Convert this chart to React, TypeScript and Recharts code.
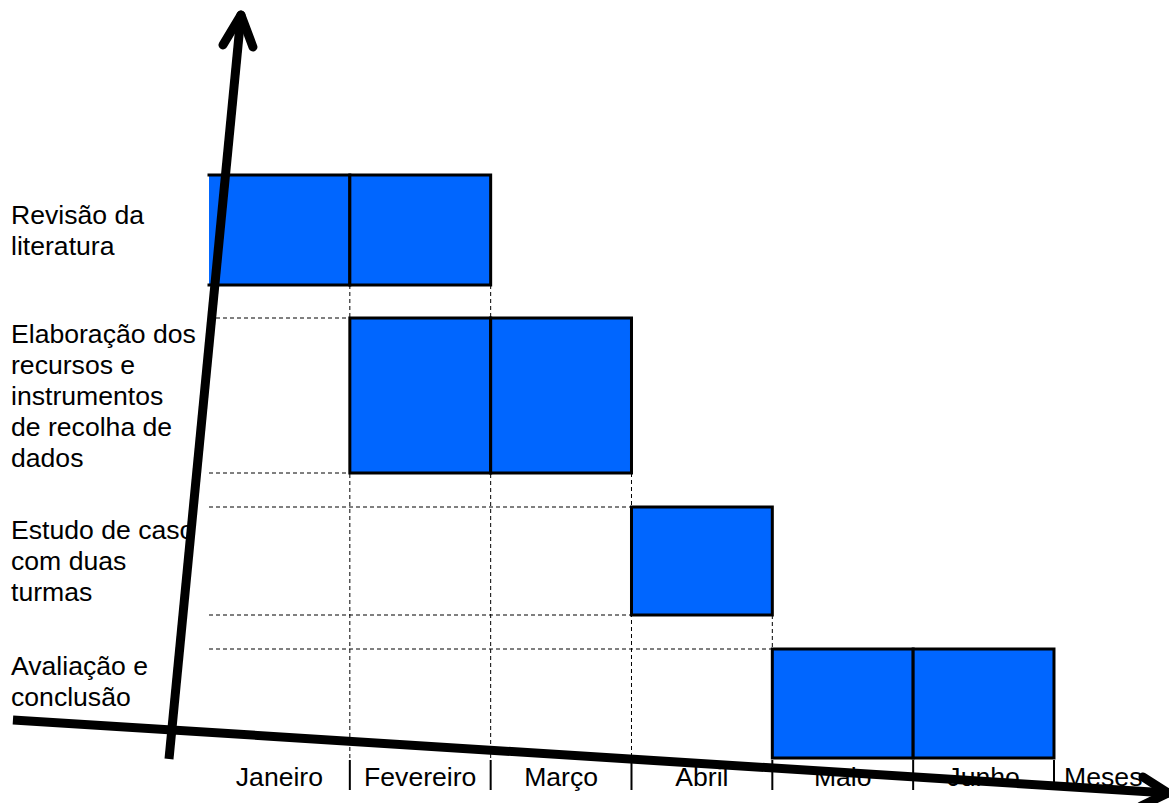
import React from "react";
import { ComposedChart, XAxis, YAxis, Scatter, ReferenceArea, ReferenceLine } from "recharts";

// months on the horizontal axis, plus the axis title shown after the last one
const months = ["Janeiro", "Fevereiro", "Março", "Abril", "Maio", "Junho"];
const axisTitle = "Meses";

// activities, one label (already broken in lines) per row
const taskLabels = [
    ["Revisão da", "literatura"],
    ["Elaboração dos", "recursos e", "instrumentos", "de recolha de", "dados"],
    ["Estudo de caso", "com duas", "turmas"],
    ["Avaliação e", "conclusão"],
];
// first month index and month index after the last one
const taskStart = [0, 1, 3, 4];
const taskEnd = [2, 3, 4, 6];
// vertical extent of every row on the activity scale
const rowLow = [47.3, 28.5, 14.3, 0];
const rowHigh = [58.3, 44.0, 25.1, 10.9];

const W = 1169;
const H = 803;
const BLUE = "#0066FF";
const FONT = "'Liberation Sans', Arial, Helvetica, sans-serif";
const FONT_SIZE = 26.6;
const Y_AXIS_W = 199;
const LINE_H = 31;
const labelNudge = [0, 0, 0, -22];

const rowCenters = rowLow.map((lo, i) => (lo + rowHigh[i]) / 2);
const boundaryTicks = [1, 2, 3, 4, 5, 6];
const labelTicks = [...months.map((_, i) => i + 0.5), 6.35];
const labelText = [...months, axisTitle];

// hand drawn axis arrows, in chart units (months / activity scale)
const yArrow = {
    shaft: [{ x: -0.284, y: -0.1 }, { x: 0.227, y: 74.3 }],
    left: [{ x: 0.099, y: 71.3 }, { x: 0.227, y: 74.3 }],
    right: [{ x: 0.312, y: 71.1 }, { x: 0.227, y: 74.3 }],
};
const xArrow = {
    shaft: [{ x: -1.392, y: 3.8 }, { x: 6.809, y: -3.5 }],
    left: [{ x: 6.632, y: -1.9 }, { x: 6.809, y: -3.5 }],
    right: [{ x: 6.618, y: -4.8 }, { x: 6.809, y: -3.5 }],
};

// dashed guides: row edges to the left of each bar, month edges below the bars
const hGuides: { y: number; to: number }[] = [];
taskStart.forEach((s, i) => {
    if (s === 0) return;
    hGuides.push({ y: rowHigh[i], to: s });
    if (rowLow[i] > 0) hGuides.push({ y: rowLow[i], to: s });
});
const vGuides: { x: number; from: number }[] = [];
boundaryTicks.forEach((b) => {
    const i = taskStart.findIndex((s, k) => s <= b && b <= taskEnd[k]);
    if (i >= 0 && rowLow[i] > 0) vGuides.push({ x: b, from: rowLow[i] });
});

const cellShape = (openLeft: boolean) => (p: any) => {
    const { x, y, width, height } = p;
    const r = x + width;
    const b = y + height;
    const d = openLeft
        ? `M${x},${y} H${r} V${b} H${x}`
        : `M${x},${y} H${r} V${b} H${x} Z`;
    return (
        <g>
            <rect x={x} y={y} width={width} height={height} fill={BLUE} />
            <path d={d} fill="none" stroke="#000" strokeWidth={3} strokeLinecap="square" />
        </g>
    );
};

const TaskTick = (props: any) => {
    const { x, y, payload } = props;
    const i = rowCenters.findIndex((c) => Math.abs(c - payload.value) < 1e-6);
    if (i < 0) return null;
    const lines = taskLabels[i];
    const cy = y + labelNudge[i];
    const tx = x - Y_AXIS_W + 1;
    return (
        <text x={tx} textAnchor="start" fontSize={FONT_SIZE} fill="#000" fontFamily={FONT}>
            {lines.map((ln, k) => (
                <tspan key={k} x={tx} y={cy + (k - (lines.length - 1) / 2) * LINE_H + 9}>
                    {ln}
                </tspan>
            ))}
        </text>
    );
};

export default function App() {
    const cells: { m: number; t: number }[] = [];
    taskStart.forEach((s, t) => {
        for (let m = s; m < taskEnd[t]; m++) cells.push({ m, t });
    });
    const anchors = cells.map(({ m, t }) => ({ x: m + 0.5, y: rowCenters[t] }));

    const arrowLines: React.ReactNode[] = [];
    [yArrow, xArrow].forEach((a, k) => {
        arrowLines.push(
            <ReferenceLine key={`as${k}`} segment={a.shaft} stroke="#000" strokeWidth={9} ifOverflow="visible" />,
            <ReferenceLine key={`al${k}`} segment={a.left} stroke="#000" strokeWidth={9} strokeLinecap="round" ifOverflow="visible" />,
            <ReferenceLine key={`ar${k}`} segment={a.right} stroke="#000" strokeWidth={9} strokeLinecap="round" ifOverflow="visible" />
        );
    });

    return (
        <div style={{ position: "absolute", left: 0, top: 0, width: W, height: H, background: "#fff" }}>
            <ComposedChart
                width={W}
                height={H}
                margin={{ top: 8, right: 44.6, left: 10, bottom: 25 }}
                style={{ fontFamily: FONT }}
            >
                <XAxis
                    type="number"
                    dataKey="x"
                    domain={[0, 6.5]}
                    ticks={labelTicks}
                    interval={0}
                    axisLine={false}
                    tickLine={false}
                    tickSize={0}
                    tickMargin={9}
                    tickFormatter={(_v: number, i: number) => labelText[i]}
                    tick={{ fontSize: FONT_SIZE, fill: "#000", fontFamily: FONT }}
                    height={20}
                />
                <YAxis
                    type="number"
                    dataKey="y"
                    domain={[0, 75]}
                    ticks={rowCenters}
                    interval={0}
                    width={Y_AXIS_W}
                    axisLine={false}
                    tickLine={false}
                    tickSize={0}
                    tickMargin={0}
                    tick={<TaskTick />}
                />

                {hGuides.map((g, k) => (
                    <ReferenceLine
                        key={`h${k}`}
                        segment={[{ x: 0, y: g.y }, { x: g.to, y: g.y }]}
                        stroke="#000"
                        strokeWidth={1}
                        strokeDasharray="4 3"
                        ifOverflow="visible"
                    />
                ))}
                {vGuides.map((g, k) => (
                    <ReferenceLine
                        key={`v${k}`}
                        segment={[{ x: g.x, y: g.from }, { x: g.x, y: 0 }]}
                        stroke="#000"
                        strokeWidth={1}
                        strokeDasharray="4 3"
                        ifOverflow="visible"
                    />
                ))}
                {boundaryTicks.map((b) => (
                    <ReferenceLine
                        key={`t${b}`}
                        segment={[{ x: b, y: -0.2 }, { x: b, y: -3.2 }]}
                        stroke="#000"
                        strokeWidth={2}
                        ifOverflow="visible"
                    />
                ))}

                {cells.map(({ m, t }) => (
                    <ReferenceArea
                        key={`c${t}-${m}`}
                        x1={m}
                        x2={m + 1}
                        y1={rowLow[t]}
                        y2={rowHigh[t]}
                        ifOverflow="visible"
                        shape={cellShape(m === 0)}
                    />
                ))}

                <Scatter data={anchors} dataKey="y" isAnimationActive={false} shape={() => <g />} />

                {arrowLines}
            </ComposedChart>
        </div>
    );
}
